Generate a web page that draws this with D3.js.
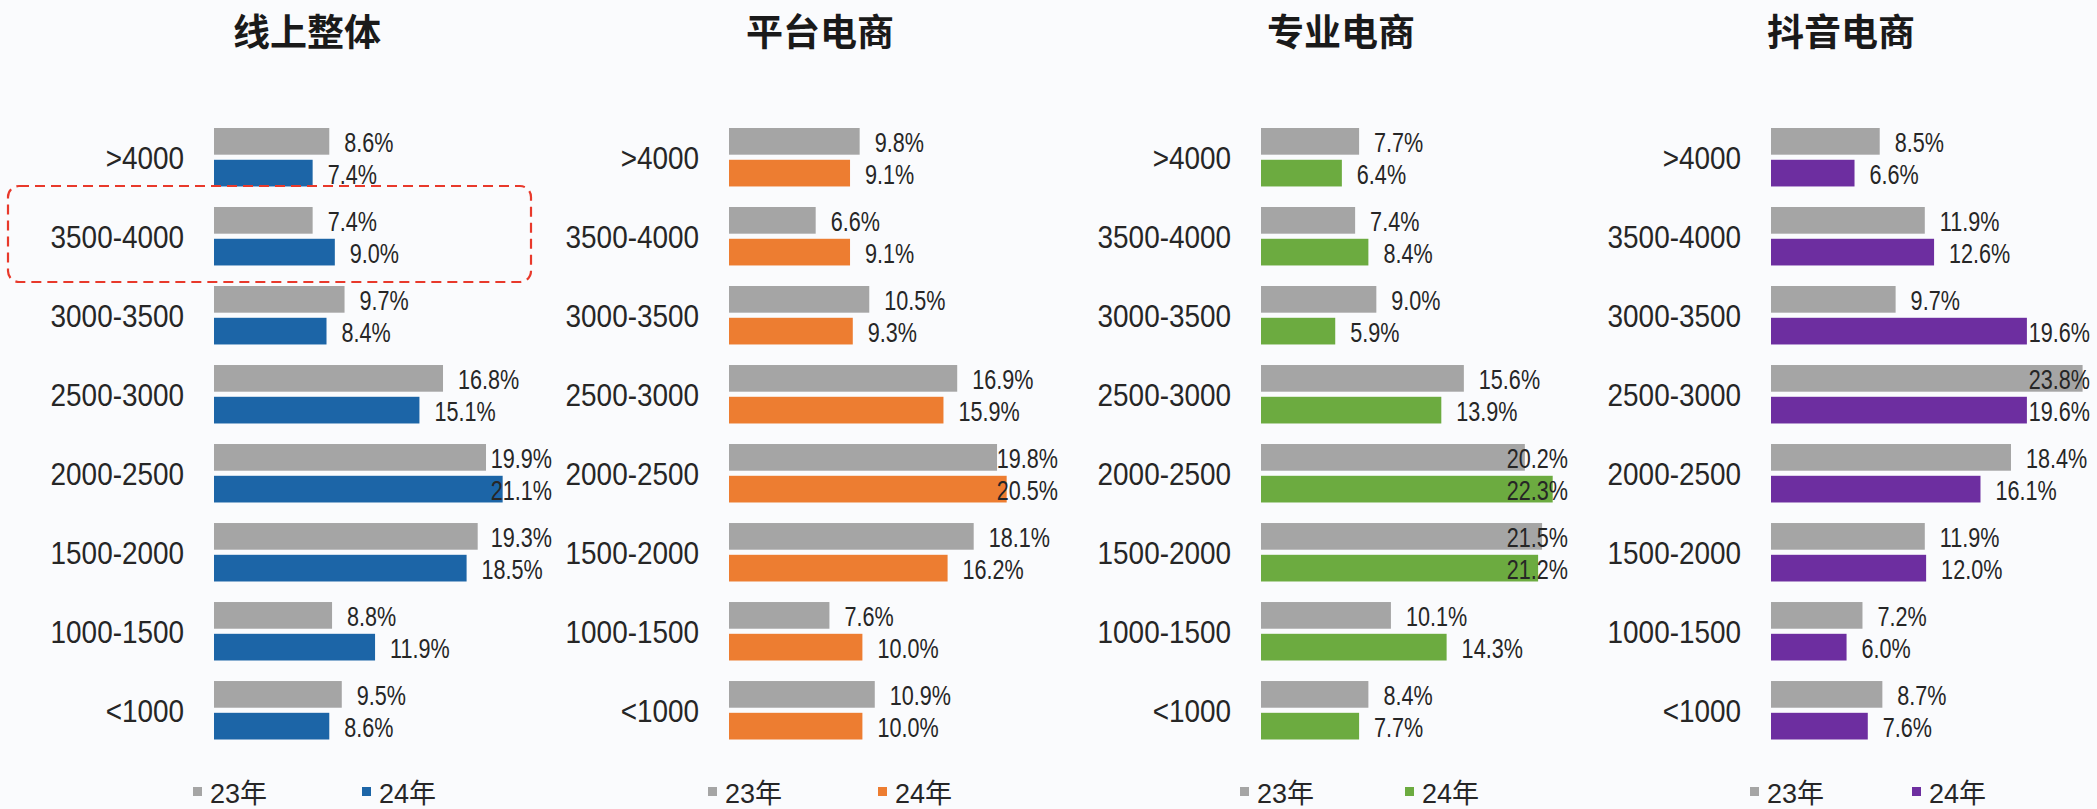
<!DOCTYPE html>
<html>
<head>
<meta charset="utf-8">
<script src="https://cdn.jsdelivr.net/npm/d3@7"></script>
<style>
  body { margin: 0; background: #fafbfd; }
  svg { display: block; }
</style>
</head>
<body>
<div id="chart"></div>
<script>
// price bands, top to bottom
var categories = ['>4000', '3500-4000', '3000-3500', '2500-3000', '2000-2500', '1500-2000', '1000-1500', '<1000'];
var panelTitles = ['线上整体', '平台电商', '专业电商', '抖音电商'];
var seriesNames = ['23年', '24年'];

var online23   = [8.6, 7.4, 9.7, 16.8, 19.9, 19.3, 8.8, 9.5];
var online24   = [7.4, 9.0, 8.4, 15.1, 21.1, 18.5, 11.9, 8.6];
var platform23 = [9.8, 6.6, 10.5, 16.9, 19.8, 18.1, 7.6, 10.9];
var platform24 = [9.1, 9.1, 9.3, 15.9, 20.5, 16.2, 10.0, 10.0];
var special23  = [7.7, 7.4, 9.0, 15.6, 20.2, 21.5, 10.1, 8.4];
var special24  = [6.4, 8.4, 5.9, 13.9, 22.3, 21.2, 14.3, 7.7];
var douyin23   = [8.5, 11.9, 9.7, 23.8, 18.4, 11.9, 7.2, 8.7];
var douyin24   = [6.6, 12.6, 19.6, 19.6, 16.1, 12.0, 6.0, 7.6];

var panelData = [
    [online23, online24],
    [platform23, platform24],
    [special23, special24],
    [douyin23, douyin24]
];

// layout
var width = 2097, height = 809;
var grey = '#a5a5a5';
var colors24 = ['#1c65a7', '#ed7d31', '#6cab40', '#6d2ea0'];
var barStart = [214, 729, 1261, 1771];
var pxPerPct = [13.87, 13.74, 13.26, 13.26];
var plotRight = [552, 1058, 1568, 2090];
var titleX = [307, 820, 1341, 1841];
var legendOffset = [148, 149, 144, 141];
var latin = '"Liberation Sans", Arial, sans-serif';
var cjk = '"Noto Sans CJK SC", "Noto Sans", sans-serif';

var svg = d3.select('#chart').append('svg')
    .attr('width', width)
    .attr('height', height);

svg.append('rect')
    .attr('width', width)
    .attr('height', height)
    .attr('fill', '#fafbfd');

var y = d3.scaleBand()
    .domain(categories)
    .range([128, 739.5])
    .paddingInner(0.26)
    .paddingOuter(0);

var ySub = d3.scaleBand()
    .domain([0, 1])
    .range([0, y.bandwidth()])
    .paddingInner(0.16);

panelData.forEach(function (series, p) {
    var x0 = barStart[p];
    var x = d3.scaleLinear()
        .domain([0, 25])
        .range([x0 - 4, x0 - 4 + pxPerPct[p] * 25]);

    var g = svg.append('g');

    // title
    g.append('text')
        .attr('x', titleX[p])
        .attr('y', 46)
        .attr('text-anchor', 'middle')
        .style('font-family', cjk)
        .style('font-weight', 'bold')
        .style('font-size', '37px')
        .style('fill', '#1a1a1a')
        .text(panelTitles[p]);

    // category labels
    g.selectAll('text.cat')
        .data(categories).enter()
        .append('text')
        .attr('class', 'cat')
        .attr('text-anchor', 'end')
        .attr('dominant-baseline', 'central')
        .attr('transform', function (d) {
            return 'translate(' + (x0 - 30) + ',' + (y(d) + y.bandwidth() / 2 + 1) + ') scale(0.9,1)';
        })
        .style('font-family', latin)
        .style('font-size', '31px')
        .style('fill', '#262626')
        .text(function (d) { return d; });

    series.forEach(function (vals, s) {
        var fill = s === 0 ? grey : colors24[p];
        g.selectAll('rect.s' + s)
            .data(vals).enter()
            .append('rect')
            .attr('class', 's' + s)
            .attr('x', x0)
            .attr('y', function (d, i) { return y(categories[i]) + ySub(s); })
            .attr('width', function (d) { return x(d) - x0; })
            .attr('height', ySub.bandwidth())
            .attr('fill', fill);

        var sx = 0.8;
        g.selectAll('text.v' + s)
            .data(vals).enter()
            .append('text')
            .attr('class', 'v' + s)
            .attr('dominant-baseline', 'central')
            .style('font-family', latin)
            .style('font-size', '27px')
            .style('fill', '#262626')
            .text(function (d) { return d.toFixed(1) + '%'; })
            .each(function (d, i) {
                var w = this.getComputedTextLength() * sx;
                var tx = Math.min(x(d) + 15, plotRight[p] - w);
                var ty = y(categories[i]) + ySub(s) + ySub.bandwidth() / 2 + 1;
                d3.select(this).attr('transform', 'translate(' + tx + ',' + ty + ') scale(' + sx + ',1)');
            });
    });

    // legend
    var legendX = [x0 - 21, x0 + legendOffset[p]];
    seriesNames.forEach(function (name, s) {
        g.append('rect')
            .attr('x', legendX[s])
            .attr('y', 787)
            .attr('width', 9)
            .attr('height', 9)
            .attr('fill', s === 0 ? grey : colors24[p]);
        g.append('text')
            .attr('x', legendX[s] + 17)
            .attr('y', 803)
            .style('font-family', latin + ',' + cjk)
            .style('font-size', '27px')
            .style('fill', '#262626')
            .text(name);
    });
});

// dashed highlight around the 3500-4000 row of the first panel
svg.append('rect')
    .attr('x', 8)
    .attr('y', 186)
    .attr('width', 523)
    .attr('height', 96)
    .attr('rx', 11)
    .attr('fill', 'none')
    .attr('stroke', '#e8392b')
    .attr('stroke-width', 2.2)
    .attr('stroke-dasharray', '10,6');
</script>
</body>
</html>
